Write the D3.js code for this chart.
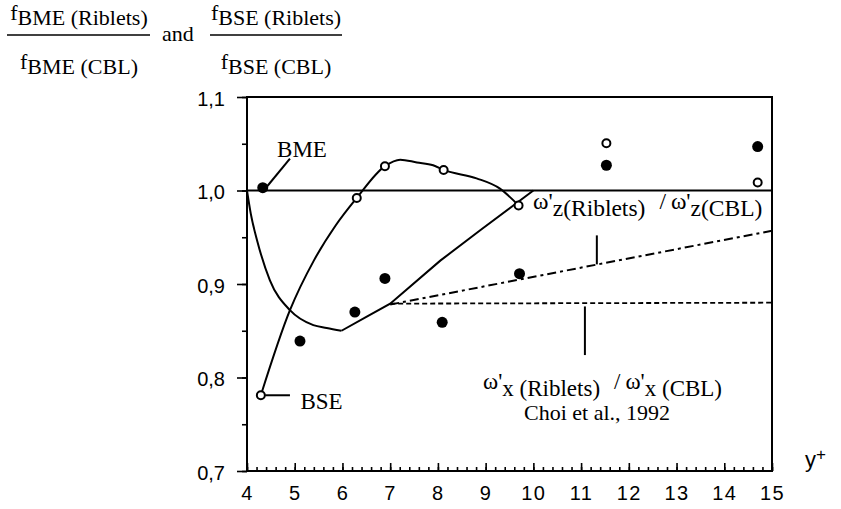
<!DOCTYPE html>
<html>
<head>
<meta charset="utf-8">
<script src="https://cdn.jsdelivr.net/npm/d3@7"></script>
<style>
  body { margin: 0; background: #fff; }
  svg { display: block; }
  .serif { font-family: "Liberation Serif", "Times New Roman", serif; }
  .sans { font-family: "Liberation Sans", Arial, sans-serif; }
</style>
</head>
<body>
<div id="chart"></div>
<script>
// measured points (y+ , ratio)
var bmeX = [4.33, 5.11, 6.26, 6.89, 8.09, 9.71, 11.53, 14.70];
var bmeY = [1.003, 0.839, 0.870, 0.906, 0.859, 0.911, 1.027, 1.047];
var bseX = [4.29, 6.30, 6.89, 8.12, 9.69, 11.53, 14.70];
var bseY = [0.781, 0.992, 1.026, 1.022, 0.984, 1.0505, 1.0085];

// hand drawn curves
var bseCurveX = [4.29, 4.90, 5.40, 5.85, 6.30, 6.89, 7.21, 7.56, 7.90, 8.12, 8.81, 9.30, 9.69];
var bseCurveY = [0.781, 0.872, 0.925, 0.962, 0.992, 1.026, 1.033, 1.030, 1.027, 1.022, 1.013, 1.002, 0.984];
var bmeDipX = [4.0, 4.08, 4.22, 4.48, 4.9, 5.39, 5.67, 5.98];
var bmeDipY = [1.0, 0.975, 0.945, 0.904, 0.872, 0.856, 0.853, 0.850];
var bmeRiseX = [5.98, 6.51, 7.0, 8.05, 8.9, 10.0];
var bmeRiseY = [0.850, 0.865, 0.879, 0.925, 0.958, 1.0];

// Choi et al. 1992 lines
var omegaZX = [7.0, 15];
var omegaZY = [0.878, 0.957];
var omegaXX = [7.0, 15];
var omegaXY = [0.879, 0.880];

var xTicks = [4, 5, 6, 7, 8, 9, 10, 11, 12, 13, 14, 15];
var yTicks = [0.7, 0.8, 0.9, 1.0, 1.1];
var yTickLabels = ["0,7", "0,8", "0,9", "1,0", "1,1"];

var width = 841, height = 509;
var margin = { top: 97, left: 247, right: 69, bottom: 38 };

var svg = d3.select("#chart").append("svg")
  .attr("width", width)
  .attr("height", height);

var x = d3.scaleLinear().domain([4, 15]).range([margin.left, width - margin.right]);
var y = d3.scaleLinear().domain([0.7, 1.1]).range([height - margin.bottom, margin.top]);

function zip(xs, ys) { return xs.map(function(v, i) { return [v, ys[i]]; }); }

// ---- axes
var minorX = d3.range(40, 151, 2).map(function(d) { return d / 10; });
var minorY = d3.range(70, 111, 5).map(function(d) { return d / 100; });

svg.append("g")
  .attr("transform", "translate(0," + y(0.7) + ")")
  .call(d3.axisBottom(x).tickValues(minorX).tickSizeInner(-4).tickSizeOuter(0).tickFormat(""))
  .call(function(g) { g.select(".domain").remove(); });

var xAxis = svg.append("g")
  .attr("class", "sans")
  .attr("transform", "translate(0," + y(0.7) + ")")
  .call(d3.axisBottom(x).tickValues(xTicks).tickSizeInner(-8).tickSizeOuter(0).tickPadding(15).tickFormat(d3.format("d")));
xAxis.select(".domain").remove();
xAxis.selectAll("text").attr("font-size", 20).attr("fill", "#000").attr("letter-spacing", 1.5);

svg.append("g")
  .attr("transform", "translate(" + x(4) + ",0)")
  .call(d3.axisLeft(y).tickValues(minorY).tickSizeInner(5).tickSizeOuter(0).tickFormat(""))
  .call(function(g) { g.select(".domain").remove(); });

var yAxis = svg.append("g")
  .attr("class", "sans")
  .attr("transform", "translate(" + x(4) + ",0)")
  .call(d3.axisLeft(y).tickValues(yTicks).tickSizeInner(10).tickSizeOuter(0).tickPadding(12)
    .tickFormat(function(d, i) { return yTickLabels[i]; }));
yAxis.select(".domain").remove();
yAxis.selectAll("text").attr("font-size", 20).attr("fill", "#000").attr("dy", "0.42em");

svg.selectAll(".tick line").attr("stroke", "#000").attr("stroke-width", 1.6);

// frame + reference line at 1,0
svg.append("rect")
  .attr("x", x(4)).attr("y", y(1.1))
  .attr("width", x(15) - x(4)).attr("height", y(0.7) - y(1.1))
  .attr("fill", "none").attr("stroke", "#000").attr("stroke-width", 2);
svg.append("line")
  .attr("x1", x(4)).attr("x2", x(15)).attr("y1", y(1.0)).attr("y2", y(1.0))
  .attr("stroke", "#000").attr("stroke-width", 2);

// ---- curves
var smooth = d3.line().x(function(d) { return x(d[0]); }).y(function(d) { return y(d[1]); }).curve(d3.curveMonotoneX);
var straight = d3.line().x(function(d) { return x(d[0]); }).y(function(d) { return y(d[1]); });

svg.append("path").attr("d", smooth(zip(bseCurveX, bseCurveY)))
  .attr("fill", "none").attr("stroke", "#000").attr("stroke-width", 2);
svg.append("path").attr("d", smooth(zip(bmeDipX, bmeDipY)))
  .attr("fill", "none").attr("stroke", "#000").attr("stroke-width", 2);
svg.append("path").attr("d", straight(zip(bmeRiseX, bmeRiseY)))
  .attr("fill", "none").attr("stroke", "#000").attr("stroke-width", 2);

svg.append("path").attr("d", straight(zip(omegaZX, omegaZY)))
  .attr("fill", "none").attr("stroke", "#000").attr("stroke-width", 2)
  .attr("stroke-dasharray", "9,4,3,4");
svg.append("path").attr("d", straight(zip(omegaXX, omegaXY)))
  .attr("fill", "none").attr("stroke", "#000").attr("stroke-width", 1.8)
  .attr("stroke-dasharray", "5,3");

// ---- points
svg.selectAll(".bme").data(zip(bmeX, bmeY)).enter().append("circle")
  .attr("class", "bme")
  .attr("cx", function(d) { return x(d[0]); })
  .attr("cy", function(d) { return y(d[1]); })
  .attr("r", 5.5).attr("fill", "#000");

svg.selectAll(".bse").data(zip(bseX, bseY)).enter().append("circle")
  .attr("class", "bse")
  .attr("cx", function(d) { return x(d[0]); })
  .attr("cy", function(d) { return y(d[1]); })
  .attr("r", 4).attr("fill", "#fff").attr("stroke", "#000").attr("stroke-width", 2);

// ---- annotations
function seg(x1, y1, x2, y2) {
  svg.append("line")
    .attr("x1", x(x1)).attr("y1", y(y1)).attr("x2", x(x2)).attr("y2", y(y2))
    .attr("stroke", "#000").attr("stroke-width", 2);
}
seg(4.35, 1.0, 4.90, 1.034);   // BME pointer
seg(4.38, 0.781, 4.90, 0.781); // BSE pointer
seg(11.33, 0.952, 11.33, 0.921); // omega z pointer
seg(11.08, 0.876, 11.08, 0.824); // omega x pointer

svg.append("text").attr("class", "serif")
  .attr("x", x(4.63)).attr("y", 157).attr("font-size", 23).text("BME");
svg.append("text").attr("class", "serif")
  .attr("x", x(5.12)).attr("y", 409).attr("font-size", 23).text("BSE");

function omegaLabel(sub1, sub2, px, py, sz) {
  var t = svg.append("text").attr("class", "serif").attr("x", px).attr("y", py).attr("font-size", sz);
  t.append("tspan").text("\u03c9'");
  t.append("tspan").attr("dy", 7).text(sub1);
  t.append("tspan").attr("dy", -7).attr("dx", 14).text("/");
  t.append("tspan").attr("dx", 5).text("\u03c9'");
  t.append("tspan").attr("dy", 7).text(sub2);
}
omegaLabel("z(Riblets)", "z(CBL)", 533, 209, 23.5);
omegaLabel("x (Riblets)", "x (CBL)", 483, 389, 23);

svg.append("text").attr("class", "serif")
  .attr("x", 597).attr("y", 420).attr("text-anchor", "middle").attr("font-size", 22)
  .text("Choi et al., 1992");

// y+ label
var yp = svg.append("text").attr("class", "sans").attr("x", 805).attr("y", 467).attr("font-size", 22);
yp.append("tspan").text("y");
yp.append("tspan").attr("dy", -7).attr("font-size", 17).text("+");

// ---- title fractions
function fraction(cx, name, x1, x2) {
  var num = svg.append("text").attr("class", "serif").attr("x", cx).attr("y", 20)
    .attr("text-anchor", "middle").attr("font-size", 22);
  num.append("tspan").text("f");
  num.append("tspan").attr("dy", 5).text(name + " (Riblets)");
  var den = svg.append("text").attr("class", "serif").attr("x", cx).attr("y", 69)
    .attr("text-anchor", "middle").attr("font-size", 22);
  den.append("tspan").text("f");
  den.append("tspan").attr("dy", 5).text(name + " (CBL)");
  svg.append("line").attr("x1", x1).attr("x2", x2).attr("y1", 35).attr("y2", 35)
    .attr("stroke", "#000").attr("stroke-width", 1.5);
}
fraction(79, "BME", 7, 150);
svg.append("text").attr("class", "serif").attr("x", 162).attr("y", 41).attr("font-size", 22).text("and");
fraction(276, "BSE", 210, 342);
</script>
</body>
</html>
